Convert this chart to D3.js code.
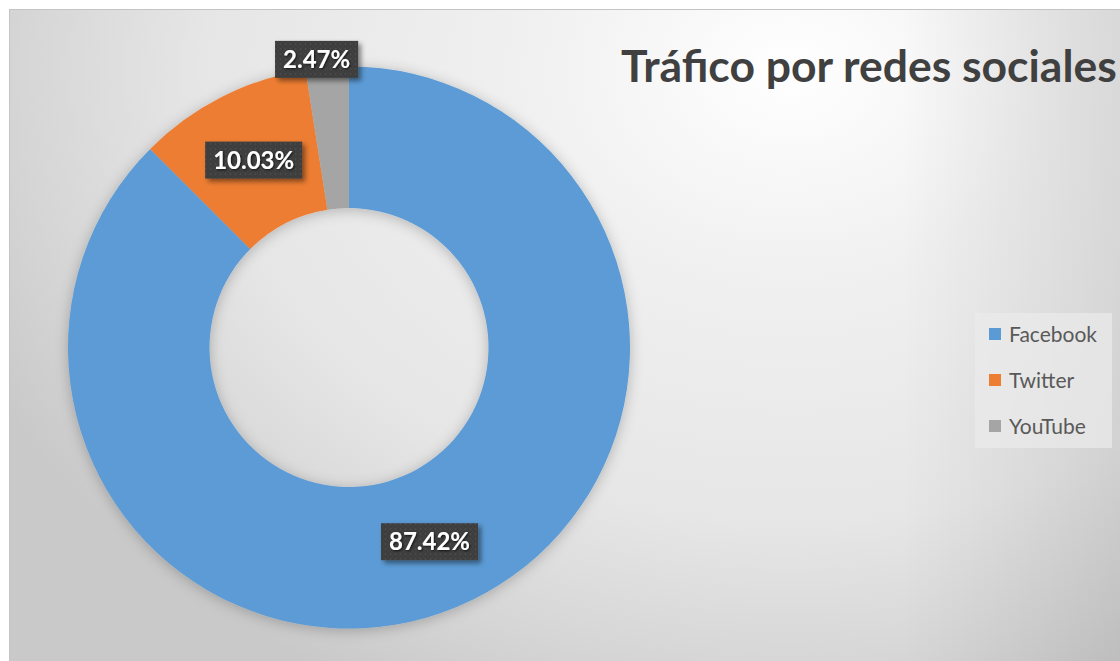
<!DOCTYPE html>
<html>
<head>
<meta charset="utf-8">
<script src="https://cdn.jsdelivr.net/npm/d3@7"></script>
<style>
  body { margin: 0; background: #fff; }
  svg { display: block; }
</style>
</head>
<body>
<script>
// Data
var categories = ["Facebook", "Twitter", "YouTube"];
var shares = [87.42, 10.03, 2.47];
var shareLabels = ["87.42%", "10.03%", "2.47%"];
var colors = ["#5b9bd5", "#ed7d31", "#a5a5a5"];
var chartTitle = "Tráfico por redes sociales";

var width = 1120, height = 661;
var font = "Lato, 'Open Sans', sans-serif";

var svg = d3.select("body").append("svg")
    .attr("width", width)
    .attr("height", height);

var defs = svg.append("defs");

// Background: soft radial light coming from the upper right
var bgGrad = defs.append("radialGradient")
    .attr("id", "bgGrad")
    .attr("gradientUnits", "userSpaceOnUse")
    .attr("cx", 0).attr("cy", 0).attr("r", 1)
    .attr("gradientTransform", "translate(790,70) scale(900,700)");
[[0, "#ffffff"], [0.3, "#f0f0f0"], [0.65, "#e6e6e6"], [0.85, "#d6d6d6"], [1, "#c9c9c9"]]
  .forEach(function(s) {
    bgGrad.append("stop").attr("offset", s[0]).attr("stop-color", s[1]);
  });

var edgeGrad = defs.append("linearGradient")
    .attr("id", "edgeGrad")
    .attr("gradientUnits", "userSpaceOnUse")
    .attr("x1", 900).attr("x2", 1120).attr("y1", 0).attr("y2", 0);
edgeGrad.append("stop").attr("offset", 0).attr("stop-color", "#000").attr("stop-opacity", 0);
edgeGrad.append("stop").attr("offset", 1).attr("stop-color", "#000").attr("stop-opacity", 0.09);

// Shadow around the donut
var ringShadow = defs.append("filter").attr("id", "ringShadow")
    .attr("x", "-20%").attr("y", "-20%").attr("width", "140%").attr("height", "140%");
ringShadow.append("feDropShadow")
    .attr("dx", 0).attr("dy", 2).attr("stdDeviation", 7)
    .attr("flood-color", "#000").attr("flood-opacity", 0.24);

// Shadow for the data label boxes
var boxShadow = defs.append("filter").attr("id", "boxShadow")
    .attr("x", "-20%").attr("y", "-30%").attr("width", "150%").attr("height", "170%");
boxShadow.append("feDropShadow")
    .attr("dx", 3).attr("dy", 3).attr("stdDeviation", 2.5)
    .attr("flood-color", "#000").attr("flood-opacity", 0.45);

var textShadow = defs.append("filter").attr("id", "textShadow");
textShadow.append("feDropShadow")
    .attr("dx", 1).attr("dy", 1).attr("stdDeviation", 0.8)
    .attr("flood-color", "#000").attr("flood-opacity", 0.7);

// Dotted dark texture of the label boxes
var dots = defs.append("pattern")
    .attr("id", "dots")
    .attr("patternUnits", "userSpaceOnUse")
    .attr("width", 5).attr("height", 5);
dots.append("rect").attr("width", 5).attr("height", 5).attr("fill", "#3d3d3d");
dots.append("circle").attr("cx", 1.5).attr("cy", 1.5).attr("r", 1).attr("fill", "#4f4f4f");
dots.append("circle").attr("cx", 4).attr("cy", 4).attr("r", 0.8).attr("fill", "#464646");

// Chart area
svg.append("rect")
    .attr("x", 9.5).attr("y", 9.5)
    .attr("width", width).attr("height", height)
    .attr("fill", "url(#bgGrad)")
    .attr("stroke", "#c4c4c4");
svg.append("rect")
    .attr("x", 10).attr("y", 10)
    .attr("width", width).attr("height", height)
    .attr("fill", "url(#edgeGrad)");

// Donut
var cx = 349, cy = 347.5;
var outerR = 281, innerR = 139.5;

var pie = d3.pie().sort(null).value(function(d) { return d; });
var arcs = pie(shares);

var arc = d3.arc().innerRadius(innerR).outerRadius(outerR);
var labelArc = d3.arc().innerRadius((innerR + outerR) / 2).outerRadius((innerR + outerR) / 2);
var outsideArc = d3.arc().innerRadius(outerR + 8).outerRadius(outerR + 8);

var ring = svg.append("g")
    .attr("transform", "translate(" + cx + "," + cy + ")")
    .attr("filter", "url(#ringShadow)");

ring.selectAll("path")
    .data(arcs)
    .enter()
    .append("path")
    .attr("d", arc)
    .attr("fill", function(d, i) { return colors[i]; });

// Data labels: dark boxes, small slices pushed outside the ring
var labelLayer = svg.append("g")
    .attr("transform", "translate(" + cx + "," + cy + ")");

arcs.forEach(function(d, i) {
  var small = (d.endAngle - d.startAngle) < 0.2;
  var p = small ? outsideArc.centroid(d) : labelArc.centroid(d);
  var g = labelLayer.append("g");
  var t = g.append("text")
      .attr("font-family", font)
      .attr("font-weight", "bold")
      .attr("font-size", 24)
      .attr("fill", "#ffffff")
      .attr("text-anchor", "middle")
      .attr("filter", "url(#textShadow)")
      .text(shareLabels[i]);
  var w = t.node().getComputedTextLength() + 16;
  var h = 37;
  var x = p[0], y = p[1];
  if (small) x -= 10;
  g.insert("rect", "text")
      .attr("x", x - w / 2).attr("y", y - h / 2)
      .attr("width", w).attr("height", h)
      .attr("fill", "url(#dots)")
      .attr("filter", "url(#boxShadow)");
  t.attr("x", x).attr("y", y + 8.5);
});

// Title, sized to its width in the picture
var titleText = svg.append("text")
    .attr("x", 621)
    .attr("y", 82)
    .attr("font-family", font)
    .attr("font-weight", "bold")
    .attr("font-size", 42)
    .attr("fill", "#404040")
    .text(chartTitle);
var tw = titleText.node().getComputedTextLength();
titleText.attr("font-size", 42 * 496 / tw);

// Legend
var legend = svg.append("g");
legend.append("rect")
    .attr("x", 975).attr("y", 313)
    .attr("width", 137).attr("height", 135)
    .attr("fill", "#ebebeb")
    .attr("fill-opacity", 0.7);

var legendY = d3.scalePoint()
    .domain(categories)
    .range([334, 426]);

var items = legend.selectAll(".item")
    .data(categories)
    .enter()
    .append("g")
    .attr("class", "item")
    .attr("transform", function(d) { return "translate(989," + legendY(d) + ")"; });

items.append("rect")
    .attr("x", 0).attr("y", -6)
    .attr("width", 12).attr("height", 12)
    .attr("fill", function(d, i) { return colors[i]; });

items.append("text")
    .attr("x", 20)
    .attr("y", 7.5)
    .attr("font-family", font)
    .attr("font-size", 21)
    .attr("fill", "#595959")
    .text(function(d) { return d; });
</script>
</body>
</html>
